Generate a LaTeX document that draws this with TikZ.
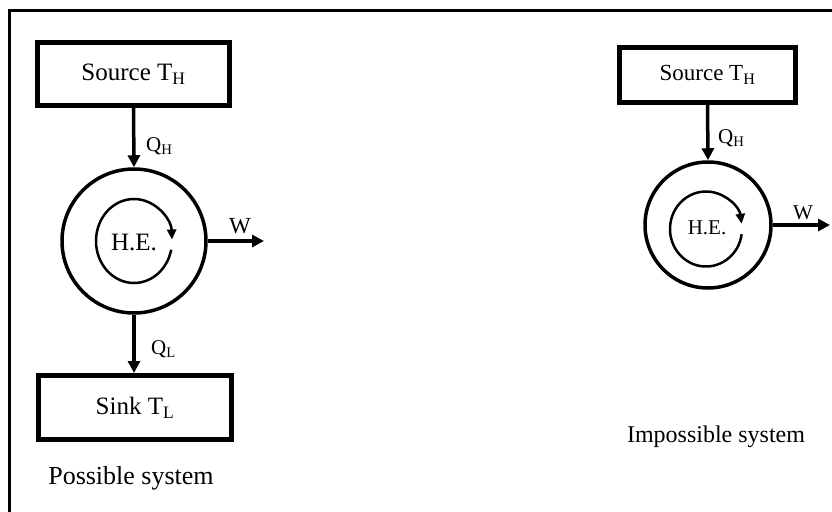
\documentclass[tikz,border=0pt]{standalone}
\usepackage{fontspec}
\setmainfont{Liberation Serif}
\usetikzlibrary{arrows.meta}
\newcommand{\subs}[1]{\textsubscript{#1}}
\begin{document}
\begin{tikzpicture}[x=1pt,y=-1pt,
  box/.style={draw, line width=5pt, inner sep=0pt},
  ring/.style={draw, circle, line width=3.5pt, inner sep=0pt},
  flow/.style={line width=3.5pt, -{Triangle[length=12pt,width=12pt]}},
  spin/.style={line width=2.5pt, -{Triangle[length=10pt,width=9pt]}},
  txtL/.style={font=\fontsize{25}{30}\selectfont, inner sep=0pt},
  txtM/.style={font=\fontsize{23}{28}\selectfont, inner sep=0pt},
  txtS/.style={font=\fontsize{21}{25}\selectfont, inner sep=0pt}]
\useasboundingbox (0,0) rectangle (832,511);
\clip (0,0) rectangle (832,511);
\draw[line width=3pt] (9,11) rectangle (860,540);
% ---- possible system
\node[box, txtL, minimum width=192pt, minimum height=63pt] (src1) at (133.5,74) {Source T\subs{H}};
\node[ring, minimum size=144pt] (he1) at (134,241) {};
\node[txtL] (het1) at (134,242) {H.E.};
\draw[spin] (he1.center) ++(-12:38pt and 42pt) arc[start angle=-12, end angle=-358, x radius=38pt, y radius=42pt];
\draw[flow] (src1.south) -- (he1.north);
\node[txtS, anchor=west] (qh1) at (146,146) {Q\subs{H}};
\coordinate (w1) at (264,241);
\draw[flow] (he1.east) -- (w1);
\node[txtM] (wl1) at (240,226) {W};
\node[box, txtL, minimum width=193pt, minimum height=64pt] (sink1) at (135,407.5) {Sink T\subs{L}};
\draw[flow] (he1.south) -- (he1.south |- sink1.north);
\node[txtS, anchor=west] (ql1) at (151,349) {Q\subs{L}};
\node[font=\fontsize{26}{31}\selectfont, inner sep=0pt] (pos) at (131,478) {Possible system};
% ---- impossible system
\node[box, txtM, minimum width=176pt, minimum height=55pt] (src2) at (707.5,75) {Source T\subs{H}};
\node[ring, minimum size=126pt] (he2) at (708,225) {};
\node[txtS] (het2) at (707,228) {H.E.};
\draw[spin] (706,229) ++(-8:36pt and 37.5pt) arc[start angle=-8, end angle=-352, x radius=36pt, y radius=37.5pt];
\draw[flow] (src2.south) -- (he2.north);
\node[txtS, anchor=west] (qh2) at (718,138) {Q\subs{H}};
\coordinate (w2) at (830,225);
\draw[flow] (he2.east) -- (w2);
\node[txtS] (wl2) at (803,213) {W};
\node[font=\fontsize{24}{29}\selectfont, inner sep=0pt] (imp) at (716,437) {Impossible system};
\end{tikzpicture}
\end{document}
